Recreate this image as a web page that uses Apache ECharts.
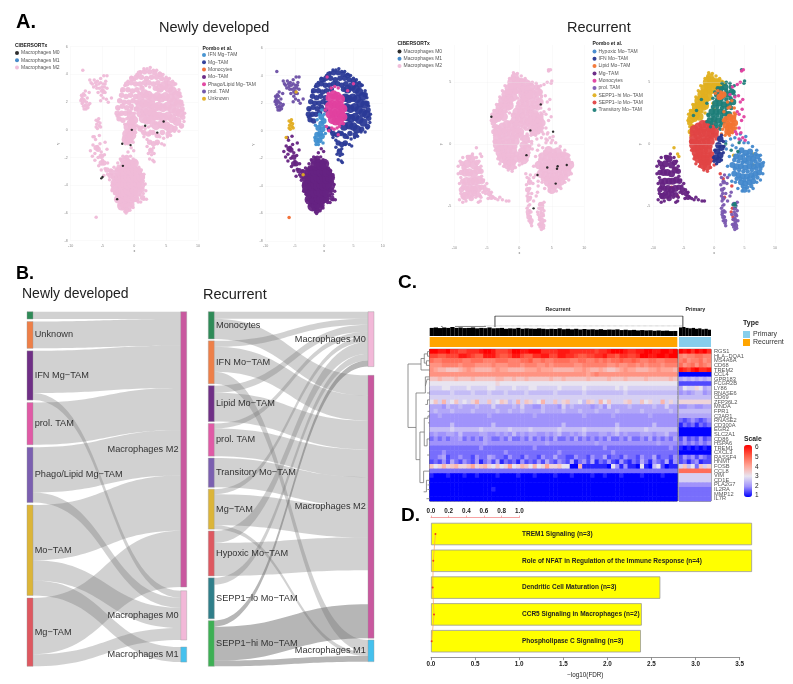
<!DOCTYPE html>
<html><head><meta charset="utf-8">
<script src="https://cdn.jsdelivr.net/npm/echarts@6/dist/echarts.min.js"></script>
<style>html,body{margin:0;padding:0;background:#fff}#c{width:793px;height:684px}</style>
</head><body><div id="c"></div>
<script>
// ---------- A. t-SNE cells (flat x,y lists; Core/Fill = dense areas, drawn with larger dots)
const ndMgCore=[4,3,4.7,3.2,5.4,3,6,2.8,6.6,2.5,3.6,2.4,4.2,2.3,4.9,2.4,5.6,2.3,6.2,2,6.9,1.9,3.8,1.7,4.5,1.6,5.2,1.7,5.9,1.5,6.6,1.3,7.2,1.2,3.9,1,4.6,.9,5.3,1,6,.8,6.7,.6,4.3,.4,5,.3,5.6,.1,3.4,.3];
const ndMgFill=[.8,4.1,1.6,4.2,2.4,4.2,3.2,4.1,4,4,-.4,3.7,.3,3.8,1.1,3.8,1.9,3.7,2.7,3.8,3.5,3.8,4.3,3.7,5,3.6,-1.2,3.3,-.5,3.4,.2,3.3,.9,3.3,1.6,3.4,2.3,3.4,3,3.3,3.7,3.4,5.4,3.4,6.1,3.3,-1.8,2.9,-1,2.9,-.3,2.8,.4,2.9,1.2,3,3.3,3,7,2.6,-2,2.5,-1.3,2.4,-.6,2.5,.2,2.4,7.3,2,-2.3,2.1,-1.6,2,-.9,2,-.2,2.1,.4,2,7.5,1.5,-2.6,1.6,-1.9,1.7,-1.2,1.6,-.5,1.7,.3,1.5,7.6,.9,-2.7,1.2,-2,1.2,-1.4,1.2,-.8,1.3,7.4,.3,-2.4,.8,-1.8,.7,6.4,.1,2.9,-.2,3.6,-.4,4.4,-.2,5.3,-.3,.9,.1,1.5,-.2,2.2,-.3,2.4,-.9,3,-1,2.6,-1.5,3.6,-.9];
const ndMgPts=[-2,2.8,-1.5,3.2,-1,3.5,-.5,3.8,0,3.6,.4,4,1,4.2,1.5,4.4,2,4.4,2.5,4.5,3,4.3,3.5,4.3,4,4.1,4.5,4,5,3.8,5.5,3.7,6,3.5,6.5,3.3,7,2.9,7.3,2.4,7.6,1.8,7.9,1.2,7.8,.6,7.4,.2,7,-.1,6.3,-.1,5.7,-.4,5.2,-.5,4.6,-.6,4,-.5,3.5,-.3,3,-.2,2.5,-.1,-2.5,1.5,-2.7,1,-2.3,1.1,.7,.2,1.2,-.1,1.7,-.3,1.5,-.5,2,-.7,3.6,-1,4.3,-1,2,-1.2,2.5,-1.4,3,-1.3,2.2,-1.7,2.7,-1.8,3.1,-1.7,2.4,-2.1,2.9,-2.2,3.1,-2.3,4.7,-1.1];
const ndPhagoCore=[1,2.4,1.6,2.6,2.2,2.5,2.8,2.3,.9,1.8,1.5,1.9,2.1,1.9,2.7,1.8,3.2,1.6,1,1.2,1.6,1.3,2.2,1.3,2.8,1.2,3.2,1,1.4,.8,2,.7,2.6,.7];
const ndPhagoPts=[.7,2.7,1.2,3.1,1.8,3.2,2.4,3.1,.2,1.5,.4,.3,.8,0,1.3,.2,1.7,.1,2.2,.2,2.6,.3,3.3,.5,4,2.9,5,3.4,.5,3.9,2.4,-.3];
const ndIfnCore=[-1,.2,-.5,.5,-1.2,-.3,-.7,-.2,-.3,.1,-1.3,-.7,-.8,-.7,-.4,-.4,-.5,1,-.1,.7];
const ndIfnPts=[-1.5,.4,-1.6,-.5,-1.2,.8,-.8,1.2,-.4,1.5,0,1.2,.1,.3,.2,-.2,-.2,-.9,-1,-1,-1.4,-1];
const ndProlPts=[-8.2,2.4,-8.3,2.2,-8.2,1.9,-8,1.7,-7.6,1.5,-7.3,1.6,-7.8,2.1,-7.5,2,-8,2.6,-7.7,2.8,-7.2,1.8,-8.3,2.5,-7.9,1.5,-7,1.9,-7.1,2.7,-6.8,3.4,-6.3,3.6,-5.8,3.5,-5.3,3.4,-4.9,3.3,-4.5,3.5,-4.8,3.9,-5.3,3.7,-6,3.2,-5.5,3,-5,2.9,-4.6,2.7,-5.2,2.5,-4.9,2.3,-4.3,3,-4.3,3.9,-6.6,3.3,-5.7,2.7,-5.3,2.1,-4.4,2.2,-8.1,4.3,-7,3.6,-6.1,3.4,-4.1,2,-3.6,2.3,-8,2.2,-7.7,1.8,-7.4,2.3,-5.6,3.3,-5.1,3.1,-4.7,3.1,-6.4,3.1,-5.9,3,-5.2,2.8,-4.9,2.7,-4.6,3.3,-8.4,2.1,-8.1,2,-7.8,2.5,-7.6,1.7];
const ndUnknownPts=[-6,.7,-5.7,.6,-5.9,.4,-5.5,.3,-5.6,.8,-6,.2,-5.8,.1,-5.4,.5,-5.3,.2,-4.8,2.8,-6.5,-.5,-3.6,-3.2];
const ndMonoPts=[-6,-6.3];
const ndMoCore=[-2,-5.5,-1.5,-5.4,-1,-5.5,-2.5,-5,-2,-4.9,-1.5,-5,-1,-4.9,-.5,-5,0,-4.9,-2.5,-4.5,-2,-4.4,-1.5,-4.5,-1,-4.4,-.5,-4.5,0,-4.4,.5,-4.5,-3,-4,-2.5,-3.9,-2,-4,-1.5,-3.9,-1,-4,-.5,-3.9,0,-4,.5,-3.9,1,-4,-3,-3.4,-2.5,-3.5,-2,-3.4,-1.5,-3.5,-1,-3.4,-.5,-3.5,0,-3.4,.5,-3.5,1,-3.4,-2.5,-3,-2,-2.9,-1.5,-3,-1,-2.9,-.5,-3,0,-2.9,.5,-3,-1.5,-2.5,-1,-2.4,-.5,-2.5,0,-2.4];
const ndMoFill=[-5.7,-1.4,-5.2,-1.9,-4.8,-2.4,-4.3,-2.9,-3.8,-3.3,-3.3,-3.8,-5.2,-2.4,-6,-1.3,-2.4,-2.7,-1.9,-2.2,-1.2,-2,-3.6,-3,.8,-3,1.2,-3.4,1.2,-4.3,1.3,-4.9,.4,-5,-.4,-5.4,-1.2,-5.8,-2.2,-5.1,-2.9,-4.5,-3.3,-4.3];
const ndMoPts=[-6.9,-1.5,-6.5,-1.1,-6.1,-.7,-5.8,-1.2,-6.2,-1.7,-6.6,-1.9,-5.4,-1,-5.2,-1.6,-5.7,-2,-6.2,-2.2,-5.6,-2.6,-5,-2.2,-4.7,-1.8,-5.2,-2.9,-4.6,-2.8,-4.2,-2.4,-4.8,-3.3,-4.2,-3.2,-3.7,-2.9,-3.9,-3.6,-3.4,-3.4,-3.5,-4,-3.2,-2.7,-2.8,-2.9,-2.6,-2.4,-2.2,-2.1,-1.8,-1.9,-1.5,-2,-1,-1.6,-.6,-1.9,-.2,-2.1,-.5,-1.3,-1.1,-2.2,-.1,-1.5,.2,-2.3,.7,-2.7,1.1,-2.9,1.5,-3.2,1.7,-3.9,1.8,-4.4,1.9,-5,1.5,-5,1,-5.2,.6,-5.2,-.2,-5.6,-.7,-5.8,-1.3,-6,-1.5,-5.9,-1.8,-5.7,-2.4,-5.4,-2.8,-5,-3.1,-4.6,-3.5,-4.4,.9,-4.7,1.4,-4.6,1.4,-3.7,-6.3,-.5,-5.5,-.4,-4.6,-.9,-4.3,-1.4];
const ndM0Pts=[1.7,.3,4.6,.6,3.6,-.2,-1.8,-2.6,-5.2,-3.5,-5,-3.4,-2.7,-5,-.4,0,-1.9,-1,-.6,-1.1];

const reHiCore=[-.7,5.4,-1.2,5,-.5,4.9,.2,5,-1.6,4.5,-1,4.4,-.3,4.4,.5,4.6,1,4.9,-2.1,4,-1.6,3.8,-.9,3.8,-2.6,3.5,-2,3.3,-1.5,3.1,-3,3,-2.5,2.8,-3.5,2.5,-3,2.3,-2.4,2.2,-3.8,2];
const reHiFill=[-.9,5.3,-.2,5.2,.5,5.1,-1.3,4.7,-.7,4.7,0,4.7,-1.9,4.2,-1.3,4.2,-.6,4.2,-2.4,3.7,-1.8,3.6,-1.2,3.6,-2.8,3.2,-2.2,3.1,-1.7,2.9,-3.3,2.7,-2.8,2.6,-3.7,2.2,-3.2,2,-4,1.7,-3.6,1.4,-3.9,1];
const reHiPts=[-.9,5.75,-.3,5.7,.3,5.5,-1.5,5.3,.9,5.3,1.5,5,1.8,4.8,-2.2,4.7,-2.6,4.3,-3,3.8,-3.5,3.2,-3.9,2.7,-4.2,2.4,-4.3,1.9,-4,1.4,-3.7,1.1,-3.8,.7,-2,2.6,-1.5,2.5,-.2,3.3,0,2.8,.8,3.6,-6.6,-.3,-6,-.8,-5.8,-1,3.2,-.9,6.4,-.8,6.4,-1.7];
const reLoCore=[-3.3,1.2,-2.6,1.4,-1.9,1.6,-1.2,1.6,-.5,1.4,-3.4,.5,-2.7,.7,-2,.9,-1.3,.9,-.6,.8,.1,1,-3.4,-.1,-2.7,0,-2,.1,-1.3,.2,-.6,.2,-3,-.7,-2.4,-.6,-1.7,-.5,-1,-.5,-2.6,-1.2,-2,-1.2,-1.4,-1.2,-.7,-1.2,-1.8,-1.7,-1.2,-1.8];
const reLoFill=[-3.6,.9,-3,.9,-2.3,1.1,-1.6,1.2,-.9,1.2,-.2,1.1,-3.7,.2,-3,.2,-2.4,.4,-1.7,.5,-1,.5,-.3,.6,.3,.7,-3.3,-.4,-2.7,-.3,-2,-.2,-1.4,-.2,-.7,-.2,-3,-1,-2.3,-.9,-1.7,-.9,-1,-.9,-.4,-.8,-2.1,-1.5,-1.5,-1.5,-.9,-1.5];
const reLoPts=[-3.8,.2,-3.7,-.5,-3.3,-1.2,-3,-1.6,-2.4,-1.8,-1.7,-2.1,-1.1,-2.2,-.6,-1.9,0,-1.7,.3,.4,.2,1.8,.8,1.3,-.3,2,1,-2.4,1.5,-2.8,3,-5.2,2.8,-5.5,3.3,-5,1.7,-4.3,3.1,-5.9,-6.5,-2,-7,-3.5,-6,-4.2,2.9,-3.4,3.2,-6.1];
const reTransCore=[.5,4,1,4.4,1.8,4.6,1.4,3.9,2.2,4,2.9,4.2,.2,3.3,.9,3.3,1.6,3.2,2.4,3.2,3.1,3.4,-.4,2.6,.3,2.6,1,2.6,1.7,2.5,2.4,2.4,-.7,1.9,0,2,.7,1.9,1.4,1.8];
const reTransFill=[.6,4.5,1.3,4.5,2,4.3,2.7,4.6,3.2,4.2,.5,3.6,1.2,3.6,2,3.6,2.7,3.7,-.2,3,.5,3,1.3,2.9,2,2.9,2.8,2.9,-.9,2.3,-.2,2.3,.5,2.3,1.2,2.2,2,2.1,-.4,1.7,.3,1.6,1,1.5];
const reTransPts=[1.3,4.9,2,5,2.6,4.9,3.3,4.7,3.4,3.9,.1,4.2,-.2,3.7,-1.2,3.3,-1,2.4,-1.2,1.8,-.6,1.4,.4,1.4,1,1.2,1.9,2,-2.1,3.6,-2.9,2.7,-3.4,2.3,5,5.1,4.5,6,4.9,4.9,1.9,0,4.1,.1,3.9,-.6,2.8,-.5,3.5,-5,3.1,-4.9,3.4,-4.8];
const reLipidCore=[2,2,2.6,2.2,3.1,2,1.9,1.5,2.5,1.5,3,1.5,3.4,1.7,2.2,1,2.7,1.1,1.2,3.9,.9,3.8,1.5,4];
const reLipidFill=[1.6,1.9,2.3,1.7,2.8,1.9,3.3,2.2,2.1,1.3,2.7,1.4,3.2,1.2,2.4,.9];
const reLipidPts=[.2,4.1,.6,4.3,1.1,4.2,2.2,3.4,2.9,3.5,3.3,2.9,3.5,2.4,3.6,1.3,1.4,1.2,1.6,2.6,2.3,2.9,1.2,.8,1.8,.7,2.5,.7,3,.9,3.3,2.5,2.6,3];
const reIfnCore=[1,.4,.7,-.1,1.2,-.3,.5,-.6,1,-.9,.3,-1.1,.7,-1.3];
const reIfnPts=[1.2,.7,1.5,.2,1.6,-.2,.1,-.5,-.1,-1.1,0,-1.4,.4,-1.6,1.2,-1.3,1.5,-.7];
const reHypCore=[4.5,-.5,5.2,-.7,5.9,-.6,3.6,-1,4.3,-1.1,5,-1.3,5.7,-1.2,6.4,-1.2,7.1,-1,3,-1.7,3.7,-1.8,4.4,-1.8,5.1,-1.9,5.8,-1.8,6.5,-1.8,7.2,-1.7,7.8,-1.7,3.3,-2.4,4,-2.5,4.7,-2.6,5.4,-2.6,6.1,-2.5,6.8,-2.4,7.4,-2.3,4.4,-3.1,5.1,-3.2,5.8,-3.1,6.4,-3,5,-3.7];
const reHypFill=[4.1,-.7,4.8,-.9,5.5,-.9,6.2,-.9,6.8,-.8,3.3,-1.3,4,-1.4,4.7,-1.5,5.4,-1.5,6.1,-1.5,6.8,-1.4,7.5,-1.3,3.4,-2,4.1,-2.1,4.8,-2.2,5.5,-2.2,6.2,-2.1,6.9,-2,7.6,-2,3.7,-2.8,4.3,-2.8,5,-2.9,5.7,-2.8,6.4,-2.7,7.1,-2.7,4.7,-3.4,5.4,-3.5,6.1,-3.4];
const reHypPts=[2.5,-1,2.2,-1.8,2.5,-2.5,2.9,-3,3.5,-3.1,3.9,-3.6,4.6,-3.8,5.7,-3.8,6.4,-3.6,7,-3.1,7.6,-2.9,8,-2.4,8.1,-1.5,7.6,-.9,7,-.5,6.3,-.2,5.6,.1,4.9,.1,4.3,.3,3.6,-.3,3,-.1,2.7,.4,3.4,.5,4.3,.8,5.2,.6,2,-.4,1.9,.2,2.3,.9];
const reMgCore=[-8,-1.6,-7.4,-1.2,-7,-1.7,-8.3,-2.3,-7.7,-2.3,-7,-2.4,-6.4,-2.1,-8.1,-3,-7.4,-3,-6.8,-3,-6.2,-2.9,-7.6,-3.6,-7,-3.7,-6.4,-3.6,-8.4,-4.2];
const reMgFill=[-8.8,-1.6,-8.5,-1.9,-8.9,-2.3,-8.7,-3,-8.5,-3.3,-8.9,-3.7,-8.6,-4.2,-8,-4,-7.5,-4,-6.9,-4,-6.3,-4.1,-5.8,-3.5,-5.7,-3,-5.9,-2.2,-6.5,-1.5,-7.8,-1.1,-5.2,-3.7,-4.6,-4,-4.3,-4.3,-8.1,-3.6,-7.4,-4.4];
const reMgPts=[-9.4,-1.8,-9.1,-1.4,-8.7,-1.1,-8,-1,-7.2,-.8,-6.6,-1.1,-6.2,-1.4,-5.9,-1.8,-9.4,-2.4,-9,-2.7,-9.2,-3.2,-8.8,-3.5,-9,-4,-9.2,-4.5,-8.7,-4.7,-8.2,-4.6,-7.7,-4.3,-7.2,-4.2,-6.7,-4.3,-6.3,-4.7,-5.9,-4.3,-5.6,-3.9,-5.3,-3.4,-5,-3.2,-4.7,-3.7,-4.3,-3.9,-4,-4.3,-3.7,-4.4,-3.3,-4.5,-5.8,-2.6,-5.5,-2.9,-8.5,-3.6,-6,-4.6,-5.2,-4,-4.8,-4.4,-3,-4.3,-2.6,-4.5,-2,-4.6,-1.6,-4.6];
const reProlFill=[1.4,-5.5,1.5,-5.9,3.4,-5.2,3.5,-5.7,3.5,-6.2,3.3,-6.5,1.5,-4.4,1.3,-3.7,1.6,-3.1,1.8,-6.2,3.6,-6.6,3.4,-4.9];
const reProlPts=[1.2,-2.7,1.5,-3,1.1,-3.3,1.6,-3.6,1.4,-4,1.9,-4,2.1,-3.2,1.7,-2.5,1.3,-4.6,1.6,-4.9,1.2,-5.2,1.6,-5.4,1.3,-5.7,1.7,-5.9,1.5,-6.2,1.8,-6.4,1.9,-6.6,1.4,-5,1.8,-5.5,1.2,-4.2,3.2,-4.8,3.6,-5,3.8,-5.4,3.3,-5.5,3.7,-5.8,3.4,-6,3.9,-6.2,3.5,-6.4,3.2,-6.7,3.4,-6.9,3.7,-6.8,3,-6.5,3.1,-6.1,2.9,-5.7,3.8,-4.7,2.2,-2.7,2.6,-4.2,2.2,-4.6,2.8,-3.9];
const reMonoPts=[2.6,4,3,4.6,3.8,4.8,4,3.9,4.3,3.4,4.6,2.8,4.9,2.2,4.5,1.9,4.1,1.3,4.4,.9,4.7,.5,3.8,2.6,4.1,2.4,3.4,3.8,4.3,5,4.5,5.9,4.8,6,3.7,.8,4.1,.4,5.1,.3,3.5,1,4.7,3.6];
const reM0Pts=[3.3,3.2,-4.3,2.2,1.7,1.1,5.2,1,4.3,-1.9,5.8,-2,2.8,-2.5,5.6,-3.2,2.2,-5.2,7.3,-1.7,1.1,-.9,5.9,-1.8];
const reYGridLines=[-5,0,5];

// ---------- B. Sankey
const ndNodes=['Monocytes','Unknown','IFN Mg−TAM','prol. TAM','Phago/Lipid Mg−TAM','Mo−TAM','Mg−TAM','Macrophages M2','Macrophages M0','Macrophages M1'];
const ndLinks=[['Monocytes','Macrophages M2',7.3],['Unknown','Macrophages M2',26.7],['IFN Mg−TAM','Macrophages M2',42],['IFN Mg−TAM','Macrophages M0',7],['prol. TAM','Macrophages M2',42],['Phago/Lipid Mg−TAM','Macrophages M2',45],['Phago/Lipid Mg−TAM','Macrophages M0',10],['Mo−TAM','Macrophages M2',55],['Mo−TAM','Macrophages M0',20],['Mo−TAM','Macrophages M1',15],['Mg−TAM','Macrophages M2',56],['Mg−TAM','Macrophages M0',12]];
const ndTargetFrac={'Macrophages M2':0,'Macrophages M0':.787,'Macrophages M1':.9456};
const reNodes=['Monocytes','IFN Mo−TAM','Lipid Mo−TAM','prol. TAM','Transitory Mo−TAM','Mg−TAM','Hypoxic Mo−TAM','SEPP1−lo Mo−TAM','SEPP1−hi Mo−TAM','Macrophages M0','Macrophages M2','Macrophages M1'];
const reLinks=[['Monocytes','Macrophages M0',7],['Monocytes','Macrophages M2',20.3],['IFN Mo−TAM','Macrophages M0',6],['IFN Mo−TAM','Macrophages M2',25],['IFN Mo−TAM','Macrophages M1',12],['Lipid Mo−TAM','Macrophages M0',7],['Lipid Mo−TAM','Macrophages M2',29],['prol. TAM','Macrophages M0',5],['prol. TAM','Macrophages M2',27.7],['Transitory Mo−TAM','Macrophages M2',29.3],['Mg−TAM','Macrophages M0',5],['Mg−TAM','Macrophages M2',31],['Mg−TAM','Macrophages M1',4],['Hypoxic Mo−TAM','Macrophages M0',12],['Hypoxic Mo−TAM','Macrophages M2',33],['SEPP1−lo Mo−TAM','Macrophages M0',7],['SEPP1−lo Mo−TAM','Macrophages M2',34,'none'],['SEPP1−hi Mo−TAM','Macrophages M0',6,'dark'],['SEPP1−hi Mo−TAM','Macrophages M2',34,'dark'],['SEPP1−hi Mo−TAM','Macrophages M1',5.7,'dark']];
const reTargetFrac={'Macrophages M0':0,'Macrophages M2':.1794,'Macrophages M1':.9258};

// ---------- C. Heatmap: one character per cell, 0..9,a..k = 1.00 .. 6.00 in 0.25 steps
const genes=['RGS1','HLA−DQA1','MS4A6A','CD68','TREM2','CCL4','GPR183','FCGR2B','LY86','RNASE6','CD69','ZFP36L2','MNDA','FPR1','C3AR1','RNASE2','CD300A','EGR2','SLC2A1','CD86','HSPA6','TREM1','CXCL3','RASSF4','HNMT','FOSB','CCL8','VIM','CD1E','PLA2G7','IL2RA','MMP12','IL7R'];
const heatRecurrent=[
'kkjjkiihhi iijkkjhhhi kkjjkkkiii ijjjiiiiii hiijkkkjii jjkkjjkkjk',
'hhgghhhjji hggjjjhggh jjhggiijjh hjjiihgghh iijhhgiihh ikkjjkkjkk',
'feefffffee fffeeefffe eeffgeefee ffffeeffee fefeffgffg feeffeefff',
'dddeeeedee eddddeddde eedeeedded eeeeeddeee eeeddeddee dedeeedeee',
'dcbbaaabcd cbbbbcdccb bbbcccdccc bbbbbccdcb bcbaabcdcc bbbccdcccb',
'dddddddddd dddddddddd dddddddddd ddddddddcd eddddddddd dddddddddd',
'aabaaabaaa baaaaabbaa baabaaaaab aabaaaaaba aaabaaabaa aabaaaaaba',
'8888888888 8888889888 8888888888 8888888888 8888888888 8888888888',
'7778877778 7777887777 8777887777 7877777877 7777787877 7777777777',
'6666676666 7666766676 6667666666 7666666766 6666666766 6666666666',
'7777777777 7777777777 7777777777 7777777777 7777777777 7777777777',
'8a7b78a787 9b77a78a96 7b7a978b77 a79a7786a9 7b8a7779a7 7a8977b797',
'5554655655 5655575555 6575544655 5475655554 5647555565 5555655755',
'5655565555 6555556556 5565555655 5565556555 6555565555 5655555565',
'4454444444 4444544444 4444454444 4444444544 4444544444 4445444444',
'4444444444 4444444444 4444444444 4444444444 4444444444 4444444444',
'4444464444 4444464444 4444444444 4464444444 4444464444 4444644444',
'6666676666 6676666667 6666766666 6766666766 6666676666 6676666666',
'4544554644 4455445454 6454554454 5644545644 4554564544 4555455644',
'3434344534 3435433435 3343534343 5334353434 3435334353 3435343435',
'4444444444 4445444444 4444444454 4444444444 5444444444 4444454444',
'3333333333 3343333333 3333343333 3333333333 3343333333 3333333343',
'3334333333 3333333343 3333333333 3433333333 3333433333 3333333333',
'3345233433 2433543324 3324332433 5332243324 3352332433 2433523324',
'2324253243 2413425132 3142324253 2432513425 1324214213 2531432514',
'a89b9ab99a c9ab98a89c 89ba8b89c9 9a8800b111 1110841411 0810682011',
'3333333333 3333333333 3333333333 3333333333 3333333333 3333333333',
'1000100010 0100001000 0100010000 1000100001 0010001000 0100001000',
'0000000000 0000000000 0000000000 0000000000 0000000000 0000000000',
'0000000000 0000000000 0000000000 0000000000 0000000000 0000000000',
'0000000000 0000010000 0000000000 0000000000 0000000000 0000000000',
'0000000000 0000000000 0000000000 0000000000 0000000000 0000000000',
'0000000000 0000000000 0000000000 0000000000 0000000000 0000000000'];
const heatPrimary=['kjkikjki','edeeffee','efdeefde','fdefdfed','jihjkiij','00000000','56565656','22222222','58779856','45456645','66666666','99999999','44554455','66666666','55555555','32343234','13231323','00000000','00000000','24232423','34343434','10101010','00000000','24342432','23134122','7a683a79','ffffffff','77777777','77777777','44444444','33333333','33333333','33333333'];
const colDendroRecurrent=[.9,.95,.88,.95,.9,1,.9,.95,.88,.9,.95,.85,.9,.87,.95,.85,.87,.9,.8,.85,.82,.9,.8,.85,.82,.8,.85,.8,.76,.8,.78,.85,.75,.8,.74,.8,.72,.78,.72,.75,.7,.76,.68,.72,.7,.74,.66,.7,.65,.68,.62,.66,.62,.64,.58,.62,.58,.6,.55,.56];
const colDendroPrimary=[.95,1,.9,.85,.9,.8,.85,.75,.8,.7];
const rowDendro=[[1,.5,.9,.5,.9,1.5,1,1.5],[1,2.5,.85,2.5,.85,3.5,1,3.5],[.9,1,.75,1,.75,3,.85,3],[.75,2,.6,2,.6,4.5,1,4.5],[.6,3.2,0,3.2,0,17,.37,17],[.37,9.5,.37,24],[.37,9.5,.8,9.5,.8,6,1,6],[.8,8,.88,8,.88,6.5,1,6.5],[.88,9.5,1,9.5],[.8,12,.9,12,.9,11,1,11],[.9,13.5,1,13.5],[.37,24,.55,24,.55,18,.75,18],[.75,15,.75,21],[.75,15,.92,15,.92,14.5,1,14.5],[.92,16,1,16],[.75,21,.88,21,.88,19.5,1,19.5],[.88,23,1,23],[.55,24,.55,29],[.55,29,.72,29,.72,26.5,1,26.5],[.72,31,.85,31,.85,28.5,1,28.5],[.85,32.5,1,32.5],[.9,30.5,1,30.5],[.9,29.5,1,29.5]];
const colTopBracket=[[23.2,0,23.2,1,90,1,90,0]];
const colDottedLine=[[19.5,.1,90,.1]];
const colMidLines=[[4,.05,4.6,.05],[9,.05,20,.05]];
const scaleColors=['#0000ff','#a093fb','#e8e4f0','#ffa596','#ff5c46','#ff0000'];

// ---------- D. Pathways
const pathways=['TREM1 Signaling (n=3)','Role of NFAT in Regulation of the Immune Response (n=4)','Dendritic Cell Maturation (n=3)','CCR5 Signaling in Macrophages (n=2)','Phospholipase C Signaling (n=3)'];
const logFdr=[3.64,3.64,2.6,2.39,2.38];
const fdr=[.05,.026,.019,.034,.008];

// ---------- helpers
const FONT='Liberation Sans';
const pairs=a=>{const r=[];for(let i=0;i<a.length;i+=2)r.push([a[i],a[i+1]]);return r;};
const sized=(a,s)=>pairs(a).map(p=>[p[0],p[1],s]);
const cells=(core,coreSize,fill,pts,fillSize=5.5,size=3.5)=>sized(core,coreSize).concat(sized(fill,fillSize),sized(pts,size));
const decode=s=>s.replace(/ /g,'').split('').map(c=>1+parseInt(c,36)*.25);
const grids=[],xAxes=[],yAxes=[],series=[];
function addGrid(g,x,y){grids.push(g);xAxes.push(Object.assign({gridIndex:grids.length-1},x));yAxes.push(Object.assign({gridIndex:grids.length-1},y));return grids.length-1;}
const none={axisLine:{show:false},axisTick:{show:false},axisLabel:{show:false},splitLine:{show:false}};
function tsneAxes(yMin,yMax,custom){
  const common={type:'value',axisLine:{show:false},axisTick:{show:false},axisLabel:{fontSize:3.6,color:'#888',fontFamily:FONT,margin:3},splitLine:{show:true,lineStyle:{color:'#e9e9e9',width:.5,type:'dotted'}},nameLocation:'middle',nameTextStyle:{fontSize:3.6,color:'#666'}};
  const y=Object.assign({},common,{min:yMin,max:yMax,name:'Y',nameGap:9,axisLabel:Object.assign({},common.axisLabel)});
  if(custom){y.axisLabel.customValues=custom;y.axisTick={show:false,customValues:custom};y.splitLine={show:false};}else y.interval=2;
  return [Object.assign({},common,{min:-10,max:10,interval:5,name:'x',nameGap:7}),y];
}
function cellSeries(name,grid,data,color,z,extra){series.push(Object.assign({name,type:'scatter',xAxisIndex:grid,yAxisIndex:grid,data,symbolSize:v=>v[2],itemStyle:{color,opacity:.95},z:z||2,silent:true},extra||{}));}
const yMark={markLine:{silent:true,symbol:'none',label:{show:false},lineStyle:{color:'#e9e9e9',width:.5,type:'dotted'},data:reYGridLines.map(v=>({yAxis:v}))}};

// A panels
const PINK='#efbbd8',BLACK='#222222',M1BLUE='#3d85c6';
const [ax,ay]=tsneAxes(-8,6), [bx,by]=tsneAxes(-8,8,reYGridLines);
const gA1=addGrid({left:70.7,top:46.7,width:127.3,height:194},ax,ay);
const gA2=addGrid({left:265.7,top:48,width:117,height:193},ax,ay);
const gA3=addGrid({left:454.3,top:45,width:130,height:198},bx,by);
const gA4=addGrid({left:653.3,top:45,width:121.7,height:198},bx,by);
const ndAll=[[ndMgCore,ndMgFill,ndMgPts],[ndPhagoCore,[],ndPhagoPts],[ndIfnCore,[],ndIfnPts],[[],[],ndProlPts],[[],[],ndUnknownPts],[[],[],ndMonoPts],[ndMoCore,ndMoFill,ndMoPts]];
const reAll=[[reHiCore,reHiFill,reHiPts],[reLoCore,reLoFill,reLoPts],[reTransCore,reTransFill,reTransPts],[reLipidCore,reLipidFill,reLipidPts],[reIfnCore,[],reIfnPts],[reHypCore,reHypFill,reHypPts],[reMgCore,reMgFill,reMgPts],[[],reProlFill,reProlPts],[[],[],reMonoPts]];
cellSeries('Macrophages M2',gA1,[].concat(...ndAll.map(a=>cells(a[0],9,a[1],a[2]))),PINK);
cellSeries('Macrophages M1',gA1,[],M1BLUE);
cellSeries('Macrophages M0',gA1,sized(ndM0Pts,2.4),BLACK,3);
cellSeries('Mg−TAM',gA2,cells(ndMgCore,8.5,ndMgFill,ndMgPts),'#2b3a97');
cellSeries('IFN Mg−TAM',gA2,cells(ndIfnCore,6,[],ndIfnPts),'#3f8fd0',3);
cellSeries('Phago/Lipid Mg−TAM',gA2,cells(ndPhagoCore,9,[],ndPhagoPts),'#e0409f',3);
cellSeries('prol. TAM',gA2,cells([],0,[],ndProlPts),'#6b4fa5');
cellSeries('Unknown',gA2,cells([],0,[],ndUnknownPts),'#e2ad20',3);
cellSeries('Monocytes',gA2,cells([],0,[],ndMonoPts),'#f26a2e');
cellSeries('Mo−TAM',gA2,cells(ndMoCore,10,ndMoFill,ndMoPts),'#652382');
cellSeries('Macrophages M2',gA3,[].concat(...reAll.map(a=>cells(a[0],8.5,a[1],a[2]))),PINK,2,yMark);
cellSeries('Macrophages M1',gA3,[],M1BLUE);
cellSeries('Macrophages M0',gA3,sized(reM0Pts,2.4),BLACK,3);
cellSeries('SEPP1−hi Mo−TAM',gA4,cells(reHiCore,8,reHiFill,reHiPts),'#e0b020',2,yMark);
cellSeries('SEPP1−lo Mo−TAM',gA4,cells(reLoCore,8.5,reLoFill,reLoPts),'#e04545');
cellSeries('Hypoxic Mo−TAM',gA4,cells(reHypCore,6,reHypFill,reHypPts,4.5),'#4288cc');
cellSeries('Transitory Mo−TAM',gA4,cells(reTransCore,6.5,reTransFill,reTransPts,4.5),'#1c7d78',3);
cellSeries('Lipid Mo−TAM',gA4,cells(reLipidCore,6.5,reLipidFill,reLipidPts,4.5),'#f27433',3);
cellSeries('IFN Mo−TAM',gA4,cells(reIfnCore,6.5,[],reIfnPts),'#26358f',3);
cellSeries('Mg−TAM',gA4,cells(reMgCore,7,reMgFill,reMgPts),'#652382');
cellSeries('prol. TAM',gA4,cells([],0,reProlFill,reProlPts,4.5),'#7a58b0');
cellSeries('Monocytes',gA4,cells([],0,[],reMonoPts),'#e0409f',3);

// Sankey
const ndColors=['#2e8b57','#ee7f48','#6f2f86','#e05aa6','#7b5fb0','#dcb538','#de5860','#c9589f','#f2b8d8','#45c1ee'];
const reColors=['#2e8b57','#ee7f48','#6f2f86','#e05aa6','#7b5fb0','#dcb538','#de5860','#2f7f8a','#3db054','#f2b8d8','#c9589f','#45c1ee'];
function sankey(names,colors,links,box,firstUnlabelled,gap,frac){
  const targets=new Set(links.map(l=>l[1]));
  return Object.assign({type:'sankey',nodeWidth:6,nodeGap:gap,layoutIterations:0,draggable:false,silent:true,z:2,
    data:names.map((n,i)=>Object.assign({name:n,itemStyle:{color:colors[i],borderColor:'#999',borderWidth:.4},
      label:{show:!(firstUnlabelled&&i===0),position:targets.has(n)?'left':'right',distance:targets.has(n)?2:1.5,fontSize:9.2,color:'#333',fontFamily:FONT}},targets.has(n)?{localY:frac[n]}:{})),
    links:links.map(l=>({source:l[0],target:l[1],value:l[2],lineStyle:l[3]==='none'?{opacity:0}:l[3]==='dark'?{color:'#666',opacity:.48}:{color:'#777',opacity:.34}})),
    lineStyle:{curveness:.5}},box);
}
series.push(sankey(ndNodes,ndColors,ndLinks,{left:27,top:311.7,width:159.7,height:354.6},true,2.5,ndTargetFrac));
series.push(sankey(reNodes,reColors,reLinks,{left:208.3,top:311.7,width:165.7,height:354.6},false,1.9,reTargetFrac));

// Heatmap
const nCols=60;
const heatOff={type:'category',show:true,axisLine:{show:false},axisTick:{show:false},axisLabel:{show:false},splitLine:{show:false},splitArea:{show:false}};
const heatX1=Array.from({length:nCols},(_,i)=>i), heatX2=Array.from({length:8},(_,i)=>i);
const frame={show:true,borderColor:'#444',borderWidth:1,backgroundColor:'transparent'};
const gH1=addGrid(Object.assign({left:429.7,top:349.3,width:247.6,height:151.7},frame),Object.assign({},heatOff,{data:heatX1}),Object.assign({},heatOff,{data:genes,inverse:true}));
const gH2=addGrid(Object.assign({left:679,top:349.3,width:32,height:151.7},frame),Object.assign({},heatOff,{data:heatX2}),Object.assign({},heatOff,{data:genes,inverse:true,position:'right',axisLabel:{show:true,interval:0,fontSize:5.7,color:'#555',margin:3,fontFamily:FONT}}));
function heatData(rows,n){const o=[];rows.forEach((r,y)=>decode(r).slice(0,n).forEach((v,x)=>o.push([x,y,v])));return o;}
const h1=series.length;
series.push({type:'heatmap',name:'Recurrent heat',xAxisIndex:gH1,yAxisIndex:gH1,data:heatData(heatRecurrent,nCols),progressive:0,silent:true,z:2});
series.push({type:'heatmap',name:'Primary heat',xAxisIndex:gH2,yAxisIndex:gH2,data:heatData(heatPrimary,8),progressive:0,silent:true,z:2});
const aOff={type:'category',data:[0],...none}, vOff={type:'value',min:0,max:1,...none};
const gB1=addGrid({left:429.7,top:337,width:247.6,height:10},aOff,vOff);
const gB2=addGrid({left:679,top:337,width:32,height:10},aOff,vOff);
series.push({type:'bar',name:'Recurrent',xAxisIndex:gB1,yAxisIndex:gB1,data:[1],barWidth:'100%',itemStyle:{color:'#FFA500'},silent:true});
series.push({type:'bar',name:'Primary',xAxisIndex:gB2,yAxisIndex:gB2,data:[1],barWidth:'100%',itemStyle:{color:'#87CEEB'},silent:true});
const gD1=addGrid({left:429.7,top:327,width:247.6,height:9},{type:'category',data:colDendroRecurrent.map((_,i)=>i),...none},vOff);
const gD2=addGrid({left:679,top:327,width:32,height:9},{type:'category',data:colDendroPrimary.map((_,i)=>i),...none},vOff);
series.push({type:'bar',xAxisIndex:gD1,yAxisIndex:gD1,data:colDendroRecurrent,barCategoryGap:0,barWidth:'102%',itemStyle:{color:'#000'},silent:true});
series.push({type:'bar',xAxisIndex:gD2,yAxisIndex:gD2,data:colDendroPrimary,barCategoryGap:0,barWidth:'102%',itemStyle:{color:'#000'},silent:true});
const gOver=addGrid({left:429.7,top:316,width:281.3,height:11},{type:'value',min:0,max:100,...none},{type:'value',min:0,max:1,...none});
const polyline=(segs)=>{const o=[];segs.forEach(s=>{pairs(s).forEach(p=>o.push(p));o.push(['-','-']);});return o;};
series.push({type:'line',xAxisIndex:gOver,yAxisIndex:gOver,data:polyline(colTopBracket),showSymbol:false,lineStyle:{color:'#333',width:.9},silent:true,z:3});
series.push({type:'line',xAxisIndex:gOver,yAxisIndex:gOver,data:polyline(colDottedLine),showSymbol:false,lineStyle:{color:'#888',width:.6,type:'dotted'},silent:true,z:3});
series.push({type:'line',xAxisIndex:gOver,yAxisIndex:gOver,data:polyline(colMidLines),showSymbol:false,lineStyle:{color:'#666',width:.8},silent:true,z:3});
const gRow=addGrid({left:408,top:349.3,width:21.7,height:151.7},{type:'value',min:0,max:1,...none},{type:'value',min:0,max:33,inverse:true,...none});
series.push({type:'line',xAxisIndex:gRow,yAxisIndex:gRow,data:polyline(rowDendro),showSymbol:false,lineStyle:{color:'#777',width:.8},silent:true,clip:false});
const gScale=addGrid({left:752,top:447.7,width:1,height:48},{type:'value',min:0,max:1,...none},{type:'value',min:1,max:6,interval:1,position:'right',axisLine:{show:false},axisTick:{show:false},splitLine:{show:false},axisLabel:{fontSize:6.5,color:'#222',margin:2,fontFamily:FONT}});

// D
const boldAxis={fontSize:6.3,color:'#222',fontWeight:'bold',fontFamily:FONT};
const gBar=addGrid({left:431,top:520.6,width:308.7,height:134},
  {type:'value',min:0,max:3.5,interval:.5,position:'bottom',offset:3,axisLine:{show:true,lineStyle:{color:'#666',width:.7}},axisTick:{show:true,length:2.5,lineStyle:{color:'#666',width:.7}},splitLine:{show:false},axisLabel:Object.assign({},boldAxis,{margin:4,formatter:v=>v.toFixed(1)}),name:'−log10(FDR)',nameLocation:'middle',nameGap:15,nameTextStyle:Object.assign({},boldAxis,{fontWeight:'normal',fontSize:6.3})},
  {type:'category',data:pathways,inverse:true,...none});
series.push({type:'bar',xAxisIndex:gBar,yAxisIndex:gBar,data:logFdr,barWidth:22.4,clip:false,z:2,silent:true,itemStyle:{color:'#FFFF00',borderColor:'#999',borderWidth:.8},
  label:{show:true,position:'insideLeft',distance:91,formatter:p=>pathways[p.dataIndex],fontSize:6.5,fontWeight:'bold',color:'#222',fontFamily:FONT}});
const gFdr=addGrid({left:431,top:520.6,width:88.3,height:134},
  {type:'value',min:0,max:1,interval:.2,position:'top',offset:3,axisLine:{show:true,lineStyle:{color:'#f58a8a',width:.8}},axisTick:{show:true,inside:false,length:2,lineStyle:{color:'#f58a8a',width:.7}},splitLine:{show:false},axisLabel:Object.assign({},boldAxis,{margin:3,formatter:v=>v.toFixed(1)})},
  {type:'category',data:pathways,inverse:true,...none});
series.push({type:'line',xAxisIndex:gFdr,yAxisIndex:gFdr,data:fdr,symbol:'circle',symbolSize:2,z:5,silent:true,lineStyle:{color:'#f9a25a',width:.7},itemStyle:{color:'#f03b20'}});

// Legends
const leg=(left,top,items,gap)=>({left,top,orient:'vertical',padding:0,itemGap:gap,itemWidth:4,itemHeight:4,icon:'circle',selectedMode:false,inactiveColor:'#555',textStyle:{fontSize:5,color:'#555',fontFamily:FONT,padding:[0,0,0,-3]},
  data:items.map(i=>({name:i[0],itemStyle:{color:i[1]}}))});
const legends=[
 leg(15,50.5,[['Macrophages M0',BLACK],['Macrophages M1',M1BLUE],['Macrophages M2',PINK]],2.3),
 leg(202,52.5,[['IFN Mg−TAM','#3f8fd0'],['Mg−TAM','#2b3a97'],['Monocytes','#f26a2e'],['Mo−TAM','#652382'],['Phago/Lipid Mg−TAM','#e0409f'],['prol. TAM','#6b4fa5'],['Unknown','#e2ad20']],2.3),
 leg(397.5,49,[['Macrophages M0',BLACK],['Macrophages M1',M1BLUE],['Macrophages M2',PINK]],2.3),
 leg(592.5,49,[['Hypoxic Mo−TAM','#4288cc'],['IFN Mo−TAM','#26358f'],['Lipid Mo−TAM','#f27433'],['Mg−TAM','#652382'],['Monocytes','#e0409f'],['prol. TAM','#7a58b0'],['SEPP1−hi Mo−TAM','#e0b020'],['SEPP1−lo Mo−TAM','#e04545'],['Transitory Mo−TAM','#1c7d78']],2.3),
 {left:743,top:331,orient:'vertical',padding:0,itemGap:1,itemWidth:7,itemHeight:7,icon:'rect',selectedMode:false,textStyle:{fontSize:7,color:'#333',fontFamily:FONT,padding:[0,0,0,-2]},data:['Primary','Recurrent']}
];

// Free text
const T=(left,top,text,size,weight,fill)=>({type:'text',left,top,z:20,silent:true,style:{text,fontSize:size,fontWeight:weight||'normal',fontFamily:FONT,fill:fill||'#222'}});
const texts=[T(16,12,'A.',20,'bold','#000'),T(16,265,'B.',18,'bold','#000'),T(398,273,'C.',19,'bold','#000'),T(401,506,'D.',19,'bold','#000'),
 T(159,20,'Newly developed',14.5),T(567,20,'Recurrent',14.5),T(22,287,'Newly developed',14),T(203,287,'Recurrent',14.5),
 T(15,43.5,'CIBERSORTx',5,'bold'),T(202.5,46,'Pombo et al.',5,'bold'),T(397.5,41.5,'CIBERSORTx',5,'bold'),T(592.5,41.5,'Pombo et al.',5,'bold'),
 T(545.5,307,'Recurrent',5.3,'bold'),T(685.5,307,'Primary',5.3,'bold'),T(743,320,'Type',7,'bold'),T(744,435.5,'Scale',6.8,'bold')];

echarts.init(document.getElementById('c'),null,{renderer:'canvas'}).setOption({
  animation:false,backgroundColor:'#fff',textStyle:{fontFamily:FONT},tooltip:{show:false},
  grid:grids,xAxis:xAxes,yAxis:yAxes,series,legend:legends,graphic:texts,
  visualMap:{type:'continuous',min:1,max:6,seriesIndex:[h1,h1+1],dimension:2,inRange:{color:scaleColors},left:744,top:445,itemWidth:8,itemHeight:52,calculable:false,text:['',''],showLabel:false,padding:0,realtime:false,hoverLink:false}
});
</script></body></html>
